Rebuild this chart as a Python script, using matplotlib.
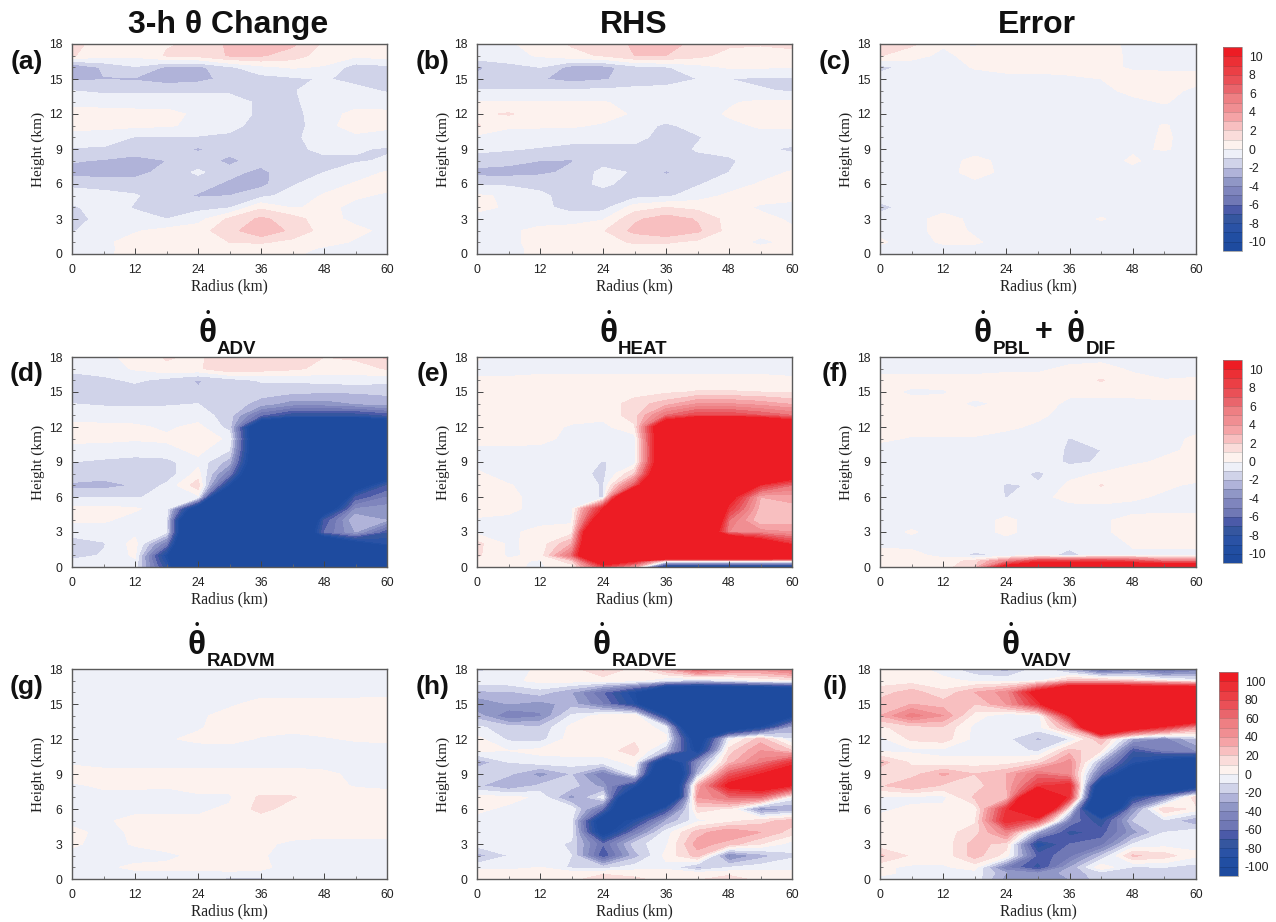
#!/usr/bin/env python
"""Nine panel theta budget composite: radius-height filled contours."""

import matplotlib

matplotlib.use("Agg")
import matplotlib.pyplot as plt
import numpy as np
from matplotlib.colors import BoundaryNorm, ListedColormap
from matplotlib.cm import ScalarMappable

W, H = 1276, 922

radius = [0, 6, 12, 18, 24, 30, 36, 42, 48, 54, 60]
heights = [18, 17, 16, 15, 14, 13, 12, 11, 10, 9, 8, 7, 6, 5, 4, 3, 2, 1, 0.5, 0]

change = [
    [1.2, 0.7, 0.5, 0.9, 1.2, 2.2, 2.4, 2.2, 0.8, 0.6, 1.0],
    [1.1, 0.3, 0.2, 1.1, 1.3, 2.1, 2.1, 1.5, 0.5, 0.2, 0.5],
    [-3.2, -1.8, -1.1, -2.2, -2.3, -1.2, -0.3, 0.1, -0.1, -1.5, -1.3],
    [-2.2, -2.05, -2.1, -2.5, -2.3, -1.7, -1.4, -1.2, -0.9, -1.3, -1.7],
    [-1.0, -1.2, -1.2, -1.2, -1.2, -1.2, -1.2, -1.05, -0.7, -0.7, -1.1],
    [-0.3, -0.4, -0.4, -0.4, -0.4, -0.5, -1.2, -1.2, -0.4, -0.3, -0.4],
    [0.4, 0.4, 0.3, 0.3, -0.2, -0.5, -1.2, -1.4, -0.3, 0.2, 0.2],
    [0.3, 0.3, 0.2, 0.1, -0.2, -0.7, -1.4, -1.5, -0.3, 0.4, 0.2],
    [-0.4, -0.6, -1.05, -1.1, -1.1, -1.2, -1.5, -1.3, -0.3, -0.2, -0.4],
    [-1.1, -1.1, -1.4, -1.7, -2.1, -1.7, -1.5, -1.1, -0.9, -0.9, -1.1],
    [-1.9, -2.1, -2.4, -2.0, -1.6, -2.2, -1.6, -1.3, -1.1, -1.1, -0.9],
    [-2.4, -2.3, -2.3, -1.7, -0.8, -1.7, -2.3, -1.2, -1.0, -0.5, 0.1],
    [-1.3, -1.6, -1.6, -1.5, -1.6, -2.2, -2.3, -1.1, -0.5, 0.1, 0.2],
    [-0.4, -0.5, -0.9, -1.6, -2.1, -2.0, -1.3, -0.6, 0.1, 0.1, -0.1],
    [-1.2, -0.4, -1.1, -1.4, -1.3, -1.1, 0.8, -0.1, 0.2, -0.2, -0.4],
    [-1.6, -0.5, -0.6, -1.0, -0.4, 1.2, 2.2, 1.5, 0.3, -0.2, -0.3],
    [-1.1, -0.4, -0.1, 0.3, 0.6, 1.6, 2.9, 1.7, 0.6, 0.2, -0.2],
    [-0.4, -0.2, 0.4, 0.6, 0.8, 1.0, 1.1, 0.7, 0.3, -0.1, -0.3],
    [-0.3, -0.2, 0.3, 0.5, 0.6, 0.6, 0.5, 0.3, -0.1, -0.2, -0.3],
    [-0.2, -0.1, 0.2, 0.4, 0.5, 0.4, 0.3, 0.1, -0.2, -0.3, -0.3],
]

rhs = [
    [-0.2, -0.1, 0.3, 1.1, 1.2, 2.2, 2.5, 1.6, 1.2, 1.1, 1.2],
    [-0.3, -0.3, 0.1, 0.7, 1.1, 2.0, 2.0, 1.3, 0.6, 0.5, 0.7],
    [-2.2, -1.4, -1.0, -2.4, -2.4, -1.4, -1.1, -0.4, 0.1, 0.1, 0.0],
    [-1.8, -1.8, -1.9, -2.4, -2.1, -1.6, -1.5, -1.0, -1.0, -1.2, -1.2],
    [-0.9, -0.9, -0.9, -0.8, -0.8, -0.7, -0.6, -0.4, -0.7, -0.9, -1.1],
    [0.1, 0.1, 0.1, 0.1, 0.05, -0.2, -0.3, -0.3, -0.1, 0.2, 0.2],
    [0.8, 1.1, 0.5, 0.4, 0.3, -0.1, -0.3, -0.4, 0.1, 0.5, 0.4],
    [1.1, 0.1, 0.1, 0.1, -0.1, -0.5, -1.2, -0.6, -0.2, 0.1, 0.1],
    [-0.3, -0.3, -0.4, -0.5, -0.5, -0.6, -1.5, -1.1, -0.4, -0.3, -0.3],
    [-0.8, -0.9, -1.1, -1.4, -1.4, -1.3, -1.5, -0.9, -0.8, -0.8, -1.2],
    [-1.4, -1.7, -2.0, -2.05, -1.4, -1.3, -1.5, -1.3, -1.1, -0.7, -0.5],
    [-2.4, -2.4, -2.2, -1.8, -0.7, -1.1, -2.1, -1.4, -1.0, -0.4, 0.1],
    [-1.1, -1.2, -1.3, -1.4, -0.8, -1.4, -1.6, -1.1, -0.5, 0.1, 0.2],
    [0.1, -0.1, -0.8, -1.4, -1.5, -1.4, -1.2, -0.5, 0.2, 0.3, 0.2],
    [0.2, -0.1, -0.7, -1.4, -1.4, 0.5, 1.0, 0.7, 0.3, -0.1, -0.2],
    [-0.3, -0.4, -0.5, -0.4, -0.1, 1.8, 2.5, 1.9, 0.6, 0.2, -0.1],
    [-0.3, -0.2, 0.3, 0.4, 0.9, 2.3, 2.9, 2.2, 0.6, 0.3, 0.1],
    [-0.3, -0.2, 0.3, 0.5, 0.7, 1.1, 1.1, 0.7, 0.4, -0.2, 0.2],
    [-0.3, -0.2, 0.2, 0.4, 0.5, 0.6, 0.6, 0.4, 0.4, 0.2, 0.2],
    [-0.3, -0.2, 0.2, 0.3, 0.4, 0.5, 0.4, 0.3, 0.3, 0.3, 0.3],
]

error = [
    [1.8, 1.2, 0.1, -0.1, 0.4, 0.5, 0.5, 0.3, -0.2, -0.2, -0.2],
    [1.05, 0.3, -0.2, 0.3, 0.5, 0.5, 0.5, 0.4, -0.2, -0.2, -0.2],
    [-1.4, -0.5, -0.3, 0.05, 0.2, 0.2, 0.2, 0.2, -0.1, -0.2, -0.2],
    [-0.4, -0.3, -0.3, -0.3, -0.2, -0.2, -0.1, 0.0, 0.3, 0.4, 0.3],
    [-0.3, -0.3, -0.3, -0.3, -0.3, -0.3, -0.3, -0.2, 0.2, 0.3, -0.2],
    [-0.3, -0.3, -0.3, -0.3, -0.3, -0.3, -0.3, -0.3, -0.2, 0.05, -0.3],
    [-0.3, -0.3, -0.3, -0.3, -0.3, -0.3, -0.3, -0.1, -0.3, -0.3, -0.3],
    [-0.3, -0.3, -0.3, -0.3, -0.3, -0.3, -0.3, -0.3, -0.3, 0.05, -0.3],
    [-0.3, -0.3, -0.3, -0.3, -0.3, -0.3, -0.3, -0.3, -0.3, 0.1, -0.3],
    [-0.3, -0.3, -0.3, -0.3, -0.3, -0.3, -0.3, -0.2, -0.1, 0.05, -0.2],
    [-0.3, -0.3, -0.3, 0.2, -0.2, -0.3, -0.3, -0.3, 0.1, -0.3, -0.3],
    [-0.3, -0.05, -0.3, 0.3, -0.2, -0.3, -0.3, -0.3, -0.2, -0.3, -0.3],
    [-0.3, -0.3, -0.3, -0.2, -0.3, -0.3, -0.3, -0.3, -0.3, -0.3, -0.3],
    [-0.4, -0.3, -0.3, -0.3, -0.3, -0.3, -0.3, -0.3, -0.3, -0.3, -0.3],
    [-1.4, -0.4, -0.3, -0.3, -0.3, -0.3, -0.3, -0.3, -0.3, -0.3, -0.3],
    [-0.5, -0.3, 0.3, -0.2, -0.3, -0.3, -0.3, 0.05, -0.3, -0.3, -0.3],
    [-0.2, -0.3, 0.3, -0.1, -0.3, -0.3, -0.3, -0.3, -0.3, -0.3, -0.3],
    [0.1, -0.3, 0.1, 0.1, -0.3, -0.3, -0.3, -0.3, -0.3, -0.3, -0.3],
    [-0.2, -0.3, -0.2, -0.2, -0.3, -0.3, -0.3, -0.3, -0.3, -0.3, -0.3],
    [-0.3, -0.3, -0.3, -0.3, -0.3, -0.3, -0.3, -0.3, -0.3, -0.3, -0.3],
]

adv = [
    [-0.3, -0.3, 0.4, 1.1, 0.8, 1.8, 1.9, 1.6, 1.0, 1.2, 2.2],
    [-0.4, -0.4, 0.1, 0.8, 0.8, 1.9, 1.5, 1.2, 0.7, 0.5, 1.1],
    [-2.1, -1.3, -0.8, -1.4, -2.1, -1.5, -0.9, -0.8, -0.7, -0.5, -0.7],
    [-1.6, -1.6, -1.6, -2.05, -1.9, -1.5, -1.5, -1.8, -1.9, -1.9, -1.8],
    [-1.0, -1.1, -1.1, -1.1, -1.0, -1.3, -2.5, -3.5, -3.5, -3, -2.5],
    [-0.5, -0.6, -0.6, -0.6, -0.5, -1.5, -6, -8, -8, -8, -7],
    [0.3, 0.3, 0.2, -0.2, 0.3, -1.4, -16, -25, -25, -25, -16],
    [0.2, 0.2, 0.1, 0.2, 0.6, -0.2, -16, -25, -25, -25, -25],
    [-0.3, -0.4, -0.5, -0.4, 0.3, -1, -16, -25, -25, -25, -25],
    [-1.0, -1.2, -1.4, -1.3, -0.3, -2.5, -16, -25, -25, -25, -25],
    [-1.1, -1.5, -1.7, -1.7, 0.4, -5, -18, -25, -25, -25, -14],
    [-2.3, -2.4, -1.9, -0.8, 1.6, -10, -25, -25, -25, -13, -7],
    [-1.1, -1.1, -1.1, -0.7, -0.3, -25, -25, -25, -22, -7, -5],
    [0.3, 0.3, 0.1, -0.4, -14, -25, -25, -25, -14, -4, -3.5],
    [0.1, 0.1, -0.3, -1.0, -25, -25, -25, -25, -7, -2, -3],
    [-0.6, -0.4, -0.3, -0.8, -25, -25, -25, -20, -6, -3, -7],
    [-1.5, -1.1, 0.4, -5, -25, -25, -25, -25, -18, -12, -9],
    [-1.4, -0.9, 0.2, -10, -25, -25, -25, -25, -25, -20, -18],
    [-0.8, -0.5, -0.2, -9, -25, -25, -25, -25, -25, -25, -25],
    [-0.3, -0.3, -0.4, -8, -25, -25, -25, -25, -25, -25, -25],
]

heat = [
    [0.1, -0.3, -0.3, -0.3, -0.3, -0.3, -0.3, -0.3, -0.3, -0.3, -0.3],
    [-0.2, -0.2, -0.2, -0.2, -0.2, -0.2, -0.2, -0.2, -0.2, -0.2, -0.2],
    [0.1, 0.1, 0.2, 0.2, 0.2, 0.2, 0.2, 0.2, 0.2, 0.2, 0.1],
    [0.3, 0.3, 0.3, 0.3, 0.3, 0.5, 0.8, 1.1, 1.1, 1.0, 0.9],
    [0.3, 0.3, 0.3, 0.3, 0.3, 1.5, 2.5, 4, 4, 3.5, 2.8],
    [0.3, 0.3, 0.3, 0.3, 0.3, 1.5, 6, 8, 8, 7, 6],
    [0.3, 0.3, 0.3, -0.1, -0.3, 0.8, 16, 25, 25, 25, 16],
    [0.3, 0.3, 0.2, -0.2, -0.3, -0.5, 16, 25, 25, 25, 25],
    [-0.2, -0.2, -0.2, -0.2, -0.4, -0.8, 16, 25, 25, 25, 25],
    [-0.2, -0.3, -0.4, -0.5, -1.05, -0.6, 16, 25, 25, 25, 25],
    [0.1, -0.3, -0.4, -0.5, -1.3, 2, 18, 25, 25, 25, 14],
    [0.2, 0.05, -0.3, -0.4, -1.1, 7, 25, 25, 25, 9, 6],
    [0.3, 0.2, -0.3, -0.4, -1.1, 25, 25, 25, 12, 3, 3.5],
    [0.3, 0.2, -0.3, -0.3, 10, 25, 25, 25, 9, 2.5, 2.5],
    [-0.1, -0.2, -0.3, -0.2, 15, 25, 25, 25, 6, 2, 2.5],
    [-0.3, -0.2, 0.3, 0.5, 25, 25, 25, 20, 5, 4.5, 4],
    [1.3, -0.2, 0.4, 3, 25, 25, 25, 25, 22, 14, 9],
    [1.2, -0.2, 0.3, 6, 25, 25, 25, 25, 25, 25, 22],
    [0.3, 0.2, -0.1, 1.5, 14, 10, 0.3, 0.3, 0.3, 0.3, 0.3],
    [0.2, 0.1, -0.1, 0.5, 8, 3, -12, -12, -12, -12, -12],
]

pbl = [
    [-0.2, -0.2, -0.2, -0.2, -0.2, -0.2, -0.2, -0.2, -0.2, -0.2, -0.2],
    [-0.2, -0.2, -0.2, -0.2, -0.1, -0.1, 0.1, 0.2, -0.1, -1.02, -0.3],
    [0.2, 0.2, 0.2, 0.2, 0.2, 0.2, 0.2, 1.1, 0.2, 0.1, 0.1],
    [0.2, -0.1, -0.05, 0.2, 0.2, 0.1, 0.1, 0.2, 0.2, 0.2, 0.15],
    [0.2, 0.2, 0.2, -0.1, 0.1, 0.2, -0.1, -0.2, -0.2, -0.1, -0.1],
    [0.2, 0.2, 0.2, 0.2, 0.2, 0.1, -0.2, -0.2, -0.2, -0.2, -0.2],
    [0.2, 0.2, 0.2, 0.2, 0.1, -0.1, -0.3, -0.2, -0.2, -0.2, -0.2],
    [0.1, -0.05, -0.05, -0.05, -0.2, -0.2, -1.05, -0.5, -0.2, -0.2, 0.1],
    [-0.2, -0.2, -0.2, -0.2, -0.2, -0.2, -1.2, -1.0, -0.2, -0.1, 0.1],
    [-0.2, -0.2, -0.2, -0.2, -0.2, -0.3, -1.2, -0.9, -0.1, 0.1, 0.1],
    [-0.2, -0.2, -0.2, -0.2, -0.5, -1.2, -0.3, 0.1, 0.3, 0.3, 0.3],
    [-0.2, -0.2, -0.2, -0.2, -1.1, -0.9, 0.2, 1.05, 0.3, 0.1, -0.1],
    [-0.2, -0.2, -0.2, -0.2, -1.05, -0.2, 0.2, 0.3, 0.1, -0.1, -0.2],
    [-0.2, -0.2, -0.2, -0.2, -0.2, -0.2, -0.2, -0.2, -0.2, -0.2, -0.2],
    [-0.2, -0.2, -0.2, -0.2, 0.1, -0.2, -0.2, -0.1, 0.2, 0.3, 0.3],
    [-0.2, 0.05, -0.2, -0.2, 0.1, -0.2, -0.2, -0.1, 0.2, 0.2, 0.2],
    [-0.2, -0.2, -0.2, -0.2, -0.2, -0.2, -0.6, -1.02, 0.2, 0.2, 0.2],
    [0.3, 0.2, -0.2, -1.3, -0.8, -0.5, -1.4, -0.3, -0.3, -0.3, -0.3],
    [0.3, 0.3, 0.3, 1.5, 5, 9, 9, 9, 8, 6, 6],
    [0.2, 0.2, 0.5, 2, 12, 15, 15, 15, 15, 15, 15],
]

radvm = [
    [-2, -2, -2, -2, -2, -2, -2, -2, -2, -2, -2],
    [-2, -2, -2, -2, -2, -2, -2, -2, -2, -2, -2],
    [-2, -2, -2, -2, -2, -2, -2, -2, -2, -2, -2],
    [-2, -2, -2, -2, -2, -1, 2, 2, 2, 2, 3],
    [-2, -2, -2, -2, -1, 2, 2, 2, 2, 2, 2],
    [-2, -2, -2, -2, -0.5, 2, 2, 1, 2, 2, 2],
    [-2, -2, -2, -0.5, 1, 1.5, -0.5, -1, -0.5, 0.5, 1],
    [-2, -2, -2, -2, -2, -2, -2, -2, -2, -2, -2],
    [-1, -2, -2, -2, -2, -2, -2, -2, -2, -2, -2],
    [3, 2, 2, 2, 2, 2, 2, 2, 1, -1, -2],
    [-1, 1, 1, 0.5, 2, 2, 2, 2, 2, -0.5, -1],
    [-2, -2, -2, -2, -1, -1, 12, 11, 3, 3, 2],
    [-2, -2, -2, -2, -1, 1, 14, 4, 3, 3, 3],
    [-2, -1, 2, 2, 1, 2, 3, 3, 3, 3, 3],
    [2, -2, 1, 2, 2, 2, 2, 2, 1, 1, 1],
    [1, -2, 0.5, 2, 2, 2, 1, -1, -1, -1, -1],
    [-2, -2, -2, -1, 1, 2, 0.5, -2, -2, -2, -2],
    [-2, -1, 1, 1, 1, 2, 1, -2, -2, -2, -2],
    [-2, -2, -1, -1, -1, -1, -1, -2, -2, -2, -2],
    [-2, -2, -2, -2, -6, -13, -13, -5, -2, -2, -2],
]

radve = [
    [-12, -8, 3, 5, 22, 5, 30, 75, 50, 45, 60],
    [-5, -3, 3, 4, 3, 2, -10, -20, -10, 0, 5],
    [-22, -22, -15, -30, -60, -100, -200, -200, -200, -200, -180],
    [-40, -30, -35, -25, -50, -90, -200, -200, -200, -200, -200],
    [-25, -50, -42, -8, 5, 10, -100, -200, -200, -200, -110],
    [-8, -15, -18, 3, 6, 8, -5, -200, -150, -100, -30],
    [3, -12, -14, 5, 6, 8, 3, -130, -5, 25, -10],
    [2, 0, 3, 5, 5, 15, -20, -110, 15, 40, 20],
    [-28, -10, -5, -5, -5, 3, -150, -40, 25, 55, 90],
    [-10, -18, -35, -20, -50, -5, -200, -25, 70, 100, 130],
    [-18, -30, -18, -15, -35, -90, -200, 30, 110, 130, 100],
    [3, 3, -2, -35, -5, -200, -200, 40, 60, 60, -5],
    [2, -2, -3, -3, -60, -200, -80, 15, 8, -40, -30],
    [-3, -5, -8, -8, -130, -90, -30, -3, 5, 15, 25],
    [-5, -6, -8, -5, -120, -50, -5, 25, 40, 30, 15],
    [-5, -6, -4, -12, -60, -15, -2, 35, 25, 10, -5],
    [-25, -10, -3, -10, -70, -25, 3, 25, -45, -25, -12],
    [-2, -3, 0, -12, -15, -5, -3, -25, -10, -5, -3],
    [3, 4, 5, 5, 8, 6, 5, 4, 6, 3, 3],
    [3, 3, 5, 5, 18, 12, 6, 8, 16, 5, 3],
]

vadv = [
    [5, 5, -5, -18, -25, -5, -30, -70, -50, -70, -50],
    [5, 5, 3, -2, -3, -2, 25, 25, 15, 5, -5],
    [15, 25, 12, 30, 45, 120, 200, 200, 200, 200, 200],
    [25, 30, 25, 20, 40, 90, 200, 200, 200, 200, 200],
    [30, 55, 40, 5, -8, -8, 100, 200, 200, 200, 180],
    [8, 15, 18, -3, -5, -5, 35, 200, 130, 90, 40],
    [-3, 12, 15, -3, -8, -22, -10, 30, -30, -45, -20],
    [-2, -2, -3, -5, -5, -12, 25, 10, -70, -50, -40],
    [25, 8, 3, 5, 5, 15, 45, -30, -90, -120, -150],
    [12, 15, 32, 20, 30, 60, 45, -60, -150, -200, -200],
    [18, 30, 18, 15, 30, 85, 100, -150, -200, -200, -130],
    [-2, -3, -3, 22, 20, 200, 90, -180, -90, -45, 20],
    [-2, 2, 3, 3, 90, 200, 0, -200, -40, 20, 5],
    [3, 5, 8, 8, 100, 70, -50, -80, -20, -12, -30],
    [4, 5, 6, 15, 50, -30, -75, -65, -35, -10, -3],
    [3, 5, 3, 25, 15, -90, -60, -55, -10, -5, -3],
    [22, 8, 3, 25, 5, -65, -55, -20, 22, 15, 2],
    [2, -2, -1, 3, -50, -75, -30, 8, -12, -10, -15],
    [2, -2, -2, -3, -30, -40, -25, -15, -15, -12, -12],
    [-2, -3, -3, -4, -35, -35, -30, -15, -15, -15, -15],
]

bin_colors = [
    "#1E4B9F", "#214EA2", "#2A52A5", "#35569F", "#4B5AA8", "#7078B5", "#7F85BD",
    "#9097C6", "#B0B3D9", "#D0D3E9", "#EEF0F8", "#FDF2EE", "#FADCDA", "#F8BFC0",
    "#F5A3A6", "#F08E92", "#EE7F83", "#E9656C", "#EA5057", "#EB3F45", "#EC2F35",
    "#ED1C24",
]
small_levels = np.arange(-11, 12)
big_levels = np.arange(-110, 111, 10)
small_ticks = [-10, -8, -6, -4, -2, 0, 2, 4, 6, 8, 10]
big_ticks = [-100, -80, -60, -40, -20, 0, 20, 40, 60, 80, 100]

col_left = [72, 477, 880]
row_top = [44, 357, 669]
letters = ["(a)", "(b)", "(c)", "(d)", "(e)", "(f)", "(g)", "(h)", "(i)"]
letter_x = [27, 433, 835]
letter_y = [62, 374, 687]
fields = [change, rhs, error, adv, heat, pbl, radvm, radve, vadv]

plt.rcParams["axes.unicode_minus"] = False
plt.rcParams["font.family"] = ["Liberation Sans", "DejaVu Sans"]

cmap = ListedColormap(bin_colors)
cmap.set_under(bin_colors[0])
cmap.set_over(bin_colors[-1])
edge = "#5a5a5a"
bold = dict(weight="bold", color="#111111")


def px_axes(fig, left, top, width, height):
    return fig.add_axes([left / W, 1 - (top + height) / H, width / W, height / H])


def px_text(fig, x, y, s, **kw):
    return fig.text(x / W, 1 - y / H, s, **kw)


def theta_dot(fig, x, y, sub, sub_left):
    px_text(fig, x, y, "θ", fontsize=24, ha="center", va="center", **bold)
    px_text(fig, x, y - 20, "•", fontsize=9, ha="center", va="center", **bold)
    px_text(fig, sub_left, y + 21, sub, fontsize=13.5, ha="left", va="baseline", **bold)


def colorbar(fig, left, top, height, width, levels, ticks):
    cax = px_axes(fig, left, top, width, height)
    sm = ScalarMappable(norm=BoundaryNorm(levels, cmap.N), cmap=cmap)
    cb = fig.colorbar(sm, cax=cax, boundaries=levels, ticks=ticks, spacing="proportional", drawedges=True)
    cb.dividers.set_color("#00000030")
    cb.dividers.set_linewidth(0.5)
    cb.outline.set_edgecolor("#8a8a8a")
    cb.outline.set_linewidth(0.5)
    cb.ax.minorticks_off()
    cb.ax.tick_params(length=0, labelsize=8.8, pad=5, labelcolor="#222222")
    cb.set_ticklabels([str(t) for t in ticks])
    return cb


fig = plt.figure(figsize=(W / 100, H / 100), dpi=100)

for i, field in enumerate(fields):
    row, col = divmod(i, 3)
    ax = px_axes(fig, col_left[col], row_top[row], 316 if col == 2 else 315, 210)
    levels = big_levels if row == 2 else small_levels
    ax.contourf(radius, heights, np.array(field, dtype=float), levels=levels, cmap=cmap, extend="both")
    ax.set_xlim(0, 60)
    ax.set_ylim(0, 18)
    ax.set_xticks(np.arange(0, 61, 12))
    ax.set_xticks(np.arange(0, 61, 6), minor=True)
    ax.set_yticks(np.arange(0, 19, 3))
    ax.set_yticks(np.arange(0, 19, 1), minor=True)
    ax.tick_params(which="major", direction="in", length=4, width=0.7, color="#444444", labelsize=8.8, labelcolor="#222222")
    ax.tick_params(axis="x", which="major", pad=7)
    ax.tick_params(axis="y", which="major", pad=7)
    ax.tick_params(which="minor", direction="in", length=2, width=0.6, color="#666666")
    for sp in ax.spines.values():
        sp.set_color(edge)
        sp.set_linewidth(1.0)
    ax.set_xlabel("Radius (km)", fontfamily="Liberation Serif", fontsize=11.2, labelpad=2, color="#222222")
    ax.set_ylabel("Height (km)", fontfamily="Liberation Serif", fontsize=11, labelpad=3, color="#222222")
    px_text(fig, letter_x[col], letter_y[row], letters[i], fontsize=19, ha="center", va="center", **bold)

px_text(fig, 228, 25, "3-h θ Change", fontsize=23, ha="center", va="center", **bold)
px_text(fig, 634, 25, "RHS", fontsize=23, ha="center", va="center", **bold)
px_text(fig, 1037, 25, "Error", fontsize=23, ha="center", va="center", **bold)

theta_dot(fig, 208, 333, "ADV", 217)
theta_dot(fig, 609, 333, "HEAT", 618)
theta_dot(fig, 983, 333, "PBL", 993)
px_text(fig, 1044, 332, "+", fontsize=22, ha="center", va="center", **bold)
theta_dot(fig, 1076, 333, "DIF", 1086)
theta_dot(fig, 197, 645, "RADVM", 207)
theta_dot(fig, 602, 645, "RADVE", 612)
theta_dot(fig, 1011, 645, "VADV", 1021)

colorbar(fig, 1223, 47, 204, 19, small_levels, small_ticks)
colorbar(fig, 1223, 360, 203, 19, small_levels, small_ticks)
colorbar(fig, 1219, 672, 204, 19, big_levels, big_ticks)

fig.savefig("out.png", dpi=100)
